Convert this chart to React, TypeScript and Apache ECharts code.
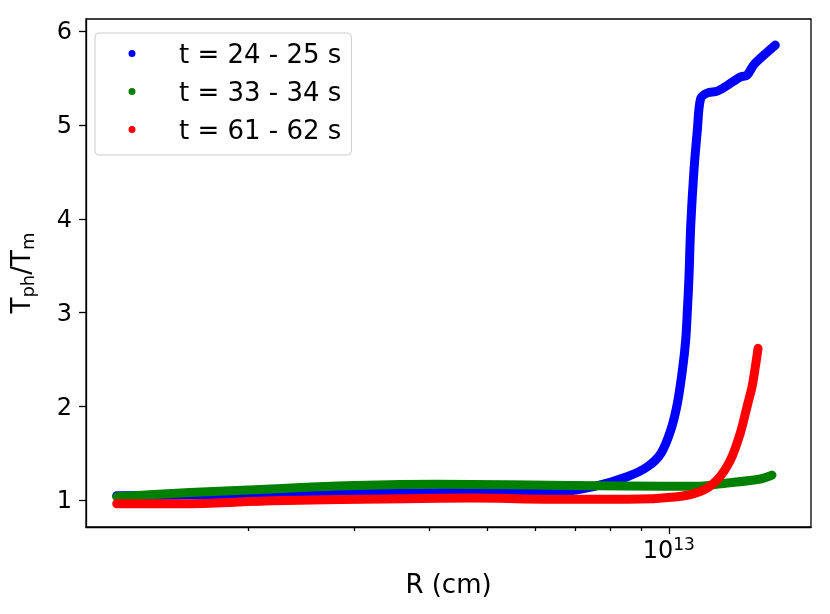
import React, { useEffect, useRef } from 'react';
import * as echarts from 'echarts';

const seriesNames = ['t = 24 - 25 s', 't = 33 - 34 s', 't = 61 - 62 s'];
const seriesColors = ['#0000ff', '#008000', '#ff0000'];

// R in cm, y = T_ph / T_m
const blueR = [1.209e12, 1.684e12, 2.464e12, 3.606e12, 5.277e12, 6.628e12, 7.525e12, 8.544e12, 9.22e12, 9.70e12, 1.0076e13, 1.0337e13, 1.0535e13, 1.0668e13, 1.0737e13, 1.0802e13, 1.0873e13, 1.1011e13, 1.1155e13, 1.1294e13, 1.1587e13, 1.2036e13, 1.2503e13, 1.315e13, 1.349e13, 1.384e13, 1.437e13, 1.503e13];
const blueRatio = [1.05, 1.06, 1.07, 1.08, 1.09, 1.096, 1.15, 1.255, 1.36, 1.5, 1.75, 2.04, 2.39, 2.71, 3.03, 3.38, 3.92, 4.52, 4.95, 5.28, 5.34, 5.36, 5.42, 5.51, 5.53, 5.64, 5.74, 5.85];

const greenR = [1.209e12, 1.601e12, 2.0e12, 2.493e12, 3.0e12, 4.147e12, 6.887e12, 8.5e12, 1.101e13, 1.25e13, 1.419e13, 1.484e13];
const greenRatio = [1.04, 1.085, 1.11, 1.14, 1.16, 1.172, 1.16, 1.155, 1.15, 1.185, 1.228, 1.27];

const redR = [1.209e12, 1.601e12, 2.198e12, 3.648e12, 4.707e12, 6.628e12, 8.544e12, 1.0337e13, 1.1294e13, 1.2036e13, 1.266e13, 1.315e13, 1.349e13, 1.375e13, 1.393e13, 1.407e13];
const redRatio = [0.965, 0.965, 0.997, 1.018, 1.025, 1.012, 1.012, 1.04, 1.096, 1.22, 1.43, 1.72, 2.0, 2.21, 2.43, 2.62];

const xRange = [1.075e12, 1.723e13];
const yRange = [0.717, 6.128];
const yTicks = [1, 2, 3, 4, 5, 6];
const xMajorTicks = [1e13];
const xMinorTicks = [2e12, 3e12, 4e12, 5e12, 6e12, 7e12, 8e12, 9e12];

// legend marker: a dot placed left of centre in a wide icon box
const legendIcon = 'path://M0 3.5L0 3.5M21.5 3.5A3.5 3.5 0 1 1 28.5 3.5A3.5 3.5 0 1 1 21.5 3.5ZM67 3.5L67 3.5';

export default function App() {
  const ref = useRef<HTMLDivElement>(null);
  useEffect(() => {
    const chart = echarts.init(ref.current!, null, { renderer: 'svg' });
    const lg = Math.log10;
    const font = 'DejaVu Sans';
    const allR = [blueR, greenR, redR];
    const allY = [blueRatio, greenRatio, redRatio];
    const axisLineStyle = { color: '#000', width: 1.3 };
    chart.setOption({
      animation: false,
      grid: { left: 82, right: 19, top: 19, bottom: 87, show: true, borderColor: '#000', borderWidth: 1.3, backgroundColor: 'transparent' },
      legend: {
        orient: 'vertical',
        left: 95,
        top: 33,
        data: seriesNames.map((n) => ({ name: n, icon: legendIcon })),
        itemWidth: 67,
        itemHeight: 7,
        itemGap: 11,
        padding: [7, 10, 12, 12],
        borderColor: '#cccccc',
        borderWidth: 1,
        borderRadius: 4,
        backgroundColor: 'rgba(255,255,255,0.8)',
        itemStyle: { borderWidth: 0 },
        textStyle: { fontFamily: font, fontSize: 26, color: '#000', lineHeight: 27 },
        selectedMode: false,
      },
      xAxis: [
        {
          type: 'value',
          min: lg(xRange[0]),
          max: lg(xRange[1]),
          position: 'bottom',
          axisLine: { show: true, lineStyle: axisLineStyle },
          splitLine: { show: false },
          axisTick: { show: true, customValues: xMajorTicks.map(lg), length: 7, lineStyle: axisLineStyle },
          axisLabel: {
            customValues: xMajorTicks.map(lg),
            formatter: (v: number) => `{b|10}{s|${Math.round(v)}}`,
            margin: 8,
            color: '#000',
            rich: {
              b: { fontFamily: font, fontSize: 24, lineHeight: 30, color: '#000' },
              s: { fontFamily: font, fontSize: 17, lineHeight: 16, verticalAlign: 'top', color: '#000' },
            },
          },
          name: 'R (cm)',
          nameLocation: 'middle',
          nameGap: 44,
          nameTextStyle: { fontFamily: font, fontSize: 26, color: '#000' },
        },
        {
          type: 'value',
          min: lg(xRange[0]),
          max: lg(xRange[1]),
          position: 'bottom',
          axisLine: { show: false },
          splitLine: { show: false },
          axisTick: { show: true, customValues: xMinorTicks.map(lg), length: 4, lineStyle: axisLineStyle },
          axisLabel: { show: false },
        },
      ],
      yAxis: {
        type: 'value',
        min: yRange[0],
        max: yRange[1],
        axisLine: { show: true, lineStyle: axisLineStyle },
        splitLine: { show: false },
        axisTick: { show: true, customValues: yTicks, length: 7, lineStyle: axisLineStyle },
        axisLabel: { customValues: yTicks, margin: 14, fontFamily: font, fontSize: 24, color: '#000' },
        name: '{t|T}{s|ph}{t|/T}{s|m}',
        nameLocation: 'middle',
        nameRotate: 90,
        nameGap: 50,
        nameTextStyle: {
          color: '#000',
          rich: {
            t: { fontFamily: font, fontSize: 26, lineHeight: 30, color: '#000' },
            s: { fontFamily: font, fontSize: 18, lineHeight: 16, verticalAlign: 'bottom', color: '#000' },
          },
        },
      },
      series: seriesNames.map((name, i) => ({
        type: 'line',
        name,
        xAxisIndex: 0,
        data: allR[i].map((r, j) => [lg(r), allY[i][j]]),
        showSymbol: false,
        symbol: 'circle',
        smooth: 0.3,
        silent: true,
        itemStyle: { color: seriesColors[i] },
        lineStyle: { color: seriesColors[i], width: 9, cap: 'round', join: 'round' },
        emphasis: { disabled: true },
      })),
    });
    return () => chart.dispose();
  }, []);
  return <div ref={ref} style={{ position: 'fixed', left: 0, top: 0, width: 830, height: 614 }} />;
}
